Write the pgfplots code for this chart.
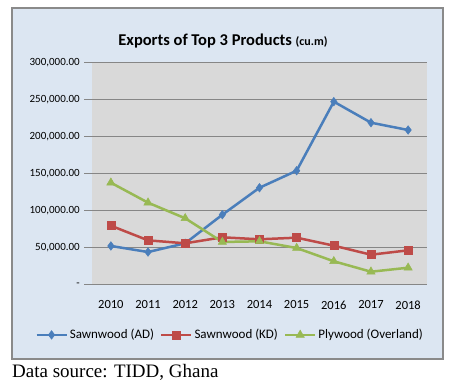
\documentclass[border=0pt]{standalone}
\usepackage{pgfplots}
\pgfplotsset{compat=1.18}
\usepackage{fontspec}
\setmainfont{Carlito}
\newfontfamily\timesf{Liberation Serif}
\definecolor{sblue}{HTML}{4A7EBB}
\definecolor{sred}{HTML}{BE4B48}
\definecolor{sgreen}{HTML}{98B954}
\definecolor{framebg}{HTML}{DCE6F2}
\definecolor{plotbg}{HTML}{D9D9D9}
\definecolor{gridc}{HTML}{868686}
\definecolor{borderc}{HTML}{8A8A8A}
\begin{document}
\begin{tikzpicture}[x=1pt,y=1pt]
\fill[white] (0,0) rectangle (452,382);
\filldraw[fill=framebg,draw=borderc,line width=2pt] (12,23) rectangle (443,374);
\node[font=\fontsize{16.5}{18}\selectfont\bfseries] at (223,341) {Exports of Top 3 Products \fontsize{12}{14}\selectfont(cu.m)};
\node[anchor=base west,inner sep=0pt,font=\fontsize{19}{21}\selectfont\timesf] at (12,4.5) {Data source: TIDD, Ghana};
\begin{axis}[
  at={(92.3pt,97.7pt)}, anchor=south west,
  scale only axis, width=334.4pt, height=222pt,
  xmin=2009.5, xmax=2018.5, ymin=0, ymax=300000,
  scaled y ticks=false,
  axis x line*=bottom, axis y line*=left,
  x axis line style={draw=gridc,line width=0.8pt},
  y axis line style={draw=none},
  axis background/.style={fill=plotbg},
  xtick={2010,...,2018},
  xticklabels={2010,2011,2012,2013,2014,2015,2016,2017,2018},
  xtick style={draw=none},
  xticklabel style={font=\fontsize{12.5}{14}\selectfont, yshift=-5pt},
  ytick={0,50000,100000,150000,200000,250000,300000},
  yticklabels={{-\hspace{5pt}},{50,000.00},{100,000.00},{150,000.00},{200,000.00},{250,000.00},{300,000.00}},
  yticklabel style={font=\fontsize{11}{13}\selectfont, xshift=-1pt},
  tick align=outside, major tick length=8pt,
  ytick style={draw=gridc,line width=0.8pt},
  ymajorgrids, grid style={draw=gridc,line width=0.8pt},
  legend columns=3,
  legend style={at={(0.412,-0.228)}, anchor=center, draw=none, fill=none,
    font=\fontsize{13}{15}\selectfont,
    /tikz/every even column/.append style={column sep=4pt}},
  legend image code/.code={\draw[mark repeat=2,mark phase=2,#1] plot coordinates {(0pt,0pt)(15pt,0pt)(30pt,0pt)};},
  every axis plot/.append style={line width=2.5pt},
]
\addplot[color=sblue, mark=diamond*, mark size=4.3pt, mark options={solid,line width=0.5pt}] coordinates {
(2010,51800) (2011,43600) (2012,55400) (2013,94000) (2014,130500) (2015,153500) (2016,246800) (2017,218400) (2018,208500)};
\addlegendentry{Sawnwood (AD)}
\addplot[color=sred, mark=square*, mark size=4pt, mark options={solid,line width=0.5pt}] coordinates {
(2010,79200) (2011,59400) (2012,55400) (2013,63500) (2014,60800) (2015,63000) (2016,52200) (2017,40000) (2018,45900)};
\addlegendentry{Sawnwood (KD)}
\addplot[color=sgreen, mark=triangle*, mark size=4.8pt, mark options={solid,line width=0.5pt}] coordinates {
(2010,137300) (2011,110300) (2012,89200) (2013,57200) (2014,58100) (2015,49000) (2016,31100) (2017,17000) (2018,22400)};
\addlegendentry{Plywood (Overland)}
\end{axis}
\end{tikzpicture}
\end{document}
